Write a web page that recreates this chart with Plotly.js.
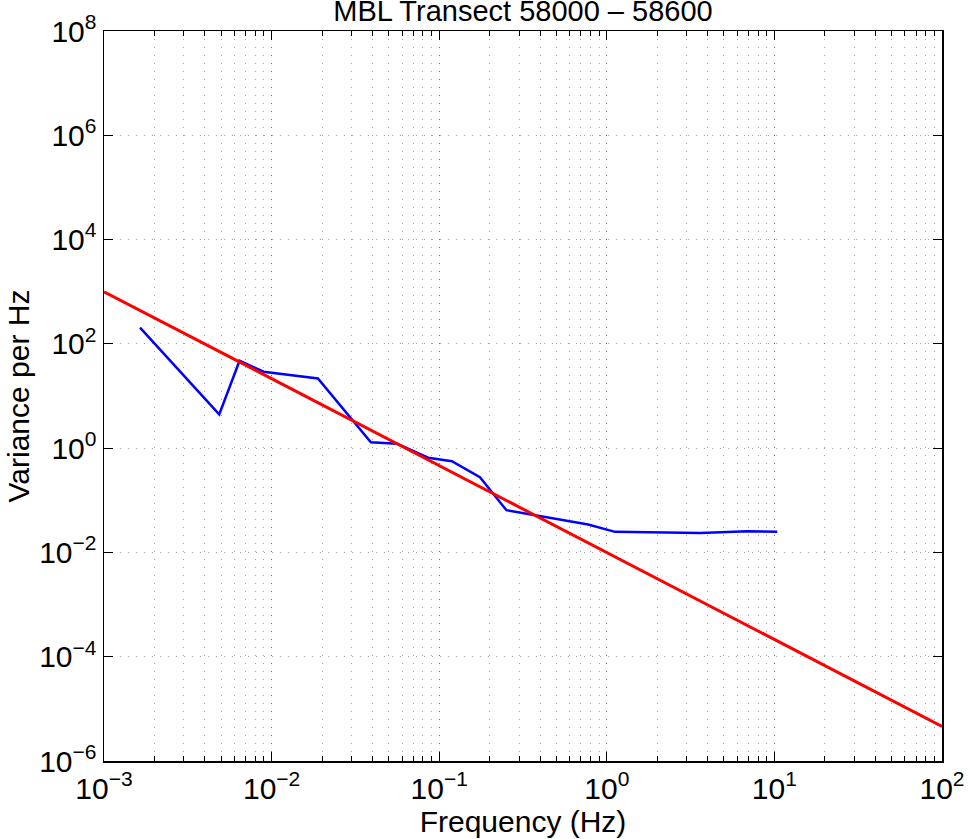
<!DOCTYPE html>
<html>
<head>
<meta charset="utf-8">
<script src="https://cdn.plot.ly/plotly-3.0.1.min.js"></script>
<style>html,body{margin:0;padding:0;background:#fff;}#chart{width:971px;height:839px;}</style>
</head>
<body>
<div id="chart"></div>
<script>
// Measured spectrum (blue)
const freq = [0.00164, 0.00487, 0.00644, 0.00895, 0.0189, 0.0391, 0.0561, 0.0859, 0.119, 0.175, 0.252, 0.774, 1.12, 3.61, 6.89, 10.4];
const variance = [205, 4.43, 47.3, 29.3, 21.7, 1.30, 1.22, 0.656, 0.562, 0.277, 0.0646, 0.0344, 0.0248, 0.0237, 0.0255, 0.0248];
// -5/3 reference line (red)
const fitFreq = [0.001, 100];
const fitVar = [1000, 4.6e-6];
// Tick labels
const xTickVals = [1e-3, 1e-2, 1e-1, 1e0, 1e1, 1e2];
const xTickText = ["10<sup>−3</sup>", "10<sup>−2</sup>", "10<sup>−1</sup>", "10<sup>0</sup>", "10<sup>1</sup>", "10<sup>2</sup>"];
const yTickVals = [1e-6, 1e-4, 1e-2, 1e0, 1e2, 1e4, 1e6, 1e8];
const yTickText = ["10<sup>−6</sup>", "10<sup>−4</sup>", "10<sup>−2</sup>", "10<sup>0</sup>", "10<sup>2</sup>", "10<sup>4</sup>", "10<sup>6</sup>", "10<sup>8</sup>"];

const FONT = "Liberation Sans, Arial, Helvetica, sans-serif";
const gridDash = "1px,7px";
const gridColor = "rgba(0,0,0,0.35)";

const traces = [
  {x: freq, y: variance, type: "scatter", mode: "lines", line: {color: "#0000ff", width: 2.5}, hoverinfo: "x+y"},
  {x: fitFreq, y: fitVar, type: "scatter", mode: "lines", line: {color: "#ff0000", width: 3}, hoverinfo: "x+y"}
];

const layout = {
  width: 971, height: 839,
  margin: {l: 104, r: 29, t: 31, b: 78, pad: 0},
  paper_bgcolor: "#ffffff", plot_bgcolor: "#ffffff",
  showlegend: false,
  font: {family: FONT, size: 30, color: "#000"},
  title: {text: "MBL Transect 58000 – 58600", font: {family: FONT, size: 29, color: "#000"},
          x: 0.5, xref: "paper", y: 1, yref: "paper", yanchor: "bottom", pad: {b: 10}},
  xaxis: {
    type: "log", range: [-3, 2], autorange: false,
    tickmode: "array", tickvals: xTickVals, ticktext: xTickText,
    tickfont: {family: FONT, size: 30, color: "#000"},
    ticks: "inside", ticklen: 9, tickwidth: 1, tickcolor: "#000",
    showline: true, linecolor: "#000", linewidth: 1.5, mirror: "ticks",
    showgrid: true, gridcolor: gridColor, griddash: gridDash, gridwidth: 1,
    zeroline: false,
    minor: {dtick: "D1", ticks: "inside", ticklen: 5, tickwidth: 1, tickcolor: "#000",
            showgrid: true, gridcolor: gridColor, griddash: gridDash, gridwidth: 1},
    title: {text: "Frequency (Hz)", font: {family: FONT, size: 30, color: "#000"}, standoff: 2}
  },
  yaxis: {
    type: "log", range: [-6, 8], autorange: false,
    tickmode: "array", tickvals: yTickVals, ticktext: yTickText,
    tickfont: {family: FONT, size: 30, color: "#000"},
    ticks: "inside", ticklen: 9, tickwidth: 1, tickcolor: "#000",
    showline: true, linecolor: "#000", linewidth: 1.5, mirror: "ticks",
    showgrid: true, gridcolor: gridColor, griddash: gridDash, gridwidth: 1,
    zeroline: false,
    title: {text: "Variance per Hz", font: {family: FONT, size: 30, color: "#000"}, standoff: 0}
  }
};

Plotly.newPlot("chart", traces, layout, {displayModeBar: false, staticPlot: true});
</script>
</body>
</html>
